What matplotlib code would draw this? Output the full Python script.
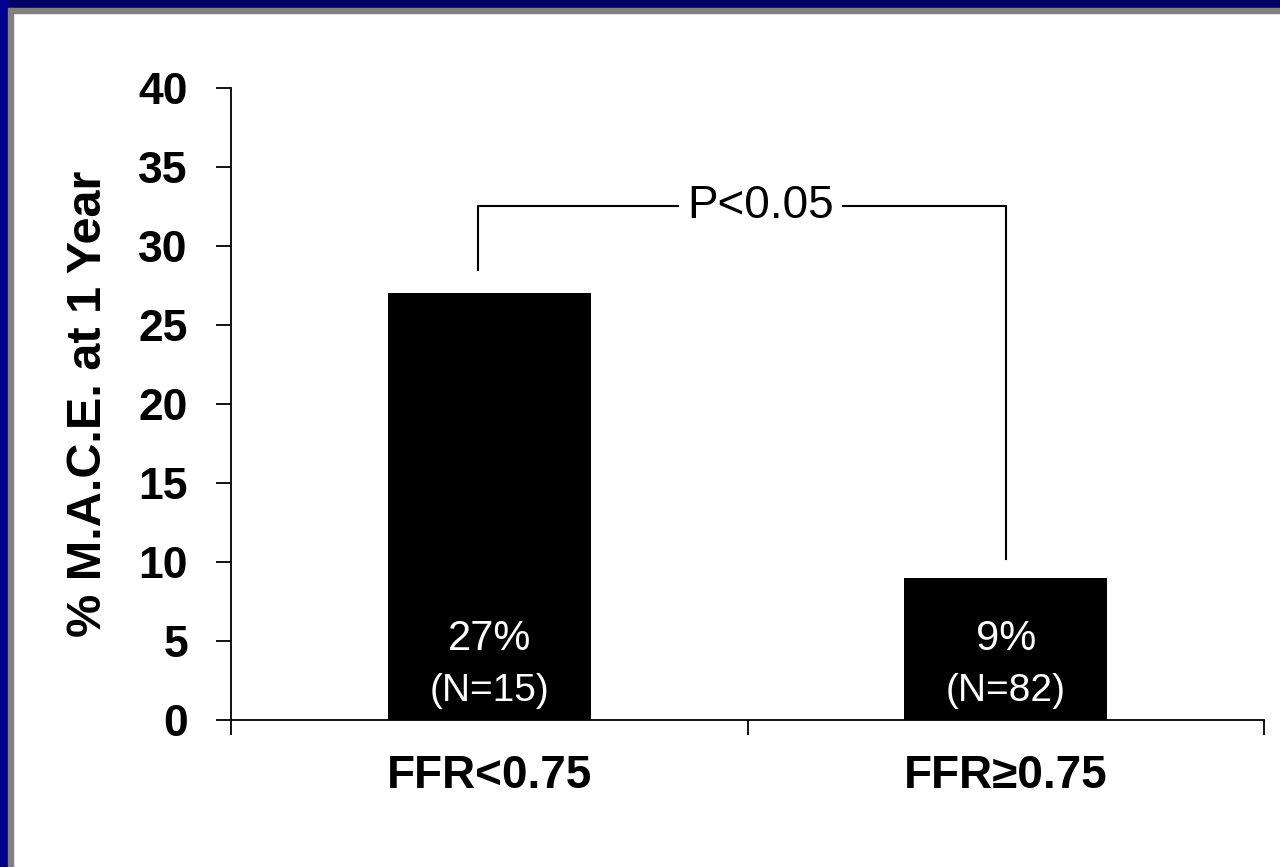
import matplotlib
matplotlib.use("Agg")
import matplotlib.pyplot as plt
from matplotlib.patches import Rectangle

categories = ["FFR<0.75", "FFR\u22650.75"]
values = [27, 9]
pct_labels = ["27%", "9%"]
n_labels = ["(N=15)", "(N=82)"]
y_ticks = [0, 5, 10, 15, 20, 25, 30, 35, 40]
p_text = "P<0.05"
ylabel = "% M.A.C.E. at 1 Year"

plt.rcParams['font.family'] = ['Liberation Sans', 'DejaVu Sans']

fig = plt.figure(figsize=(12.8, 8.67), dpi=100)
fig.patch.set_facecolor('white')

# slide frame: top and left borders
fig.add_artist(Rectangle((0, 1 - 8/867), 1, 8/867, transform=fig.transFigure, color='#000066', zorder=0))
fig.add_artist(Rectangle((8/1280, 1 - 13/867), 1, 5/867, transform=fig.transFigure, color='#808080', zorder=0))
fig.add_artist(Rectangle((0, 0), 8/1280, 1, transform=fig.transFigure, color='#000090', zorder=0))
fig.add_artist(Rectangle((8/1280, 0), 5/1280, 1 - 8/867, transform=fig.transFigure, color='#808080', zorder=0))

W, H = 1280, 867
left, right = 231, 1264
top, bottom = 88, 720
ax = fig.add_axes([left / W, 1 - bottom / H, (right - left) / W, (bottom - top) / H])

x = [0.5, 1.5]
ax.bar(x, values, width=0.393, color='black', zorder=3)
ax.set_xlim(0, 2)
ax.set_ylim(0, 40)

for sp in ['top', 'right']:
    ax.spines[sp].set_visible(False)
for sp in ['left', 'bottom']:
    ax.spines[sp].set_linewidth(1.3)
    ax.spines[sp].set_color('black')

ax.set_yticks(y_ticks)
ax.set_yticklabels([str(t) for t in y_ticks], fontsize=32, fontweight='bold')
ax.tick_params(axis='y', direction='out', length=11, width=1.3, pad=20)

ax.set_xticks([0, 1, 2])
ax.set_xticklabels([])
ax.tick_params(axis='x', direction='out', length=11, width=1.3)
for xi, lab in zip(x, categories):
    ax.text(xi, -3.55, lab, ha='center', va='center', fontsize=33, fontweight='bold',
            transform=ax.transData, clip_on=False)

ax.set_ylabel(ylabel, fontsize=35, fontweight='bold', labelpad=20)

for xi, pl, nl in zip(x, pct_labels, n_labels):
    ax.text(xi, 5.15, pl, ha='center', va='center', color='white', fontsize=30, zorder=4)
    ax.text(xi, 1.85, nl, ha='center', va='center', color='white', fontsize=28, zorder=4)

# significance bracket
bx0, bx1 = 0.478, 1.5
by = 32.5
ax.plot([bx0, bx0, 0.865], [28.5, by, by], color='black', lw=1.5, zorder=2, clip_on=False)
ax.plot([1.185, bx1, bx1], [by, by, 10.2], color='black', lw=1.5, zorder=2, clip_on=False)
ax.text((0.865 + 1.185) / 2, by, p_text, ha='center', va='center', fontsize=33, zorder=4)

fig.savefig("out.png", dpi=100, facecolor='white')
